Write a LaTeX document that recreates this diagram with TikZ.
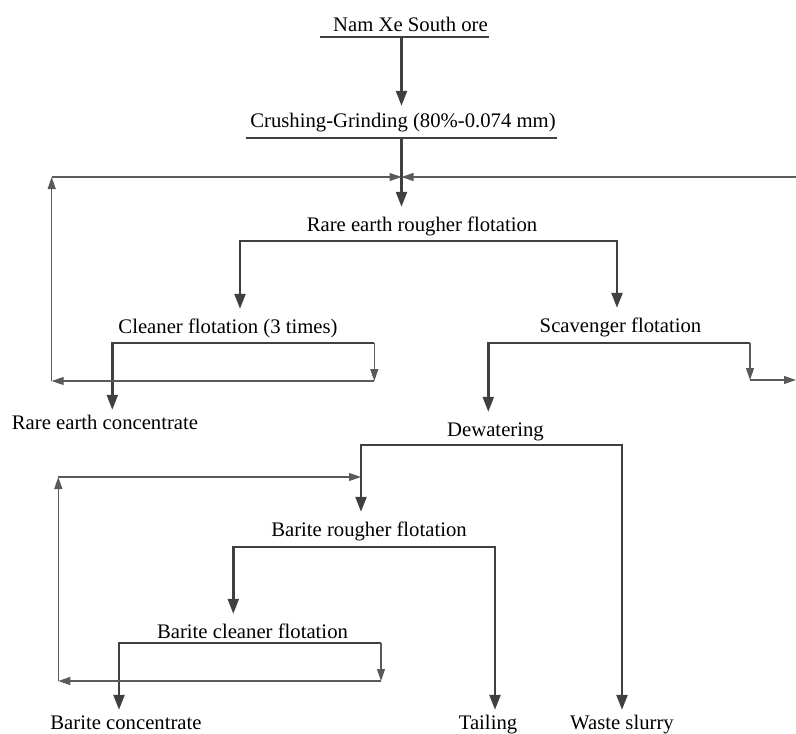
\documentclass[tikz,border=0pt]{standalone}
\usepackage{fontspec}
\setmainfont{Liberation Serif}
\usetikzlibrary{arrows.meta}
\definecolor{linegray}{HTML}{404040}
\definecolor{backgray}{HTML}{5A5A5A}
\tikzset{stage/.style={anchor=base,inner xsep=0pt,inner ysep=10pt,text height=14pt,text depth=0pt},
 product/.style={stage,inner ysep=5pt},
 bar/.style={draw=linegray,line width=2.4pt},
 main/.style={bar,-{Triangle[length=15pt,width=11pt]}},
 split/.style={bar,{Triangle[length=15pt,width=11pt]}-{Triangle[length=15pt,width=11pt]}},
 back/.style={draw=backgray,line width=1.1pt,-{Triangle[length=12pt,width=8pt]}}}

\begin{document}
\begin{tikzpicture}[x=1pt,y=-1pt,font=\fontsize{20.7}{24}\selectfont]
 \useasboundingbox (0,0) rectangle (796,734);
 \node[stage] (ore) at (410.5,31) {Nam Xe South ore};
 \node[stage,inner ysep=7pt] (crush) at (403,127) {Crushing-Grinding (80\%-0.074 mm)};
 \node[stage] (rough) at (422,231) {Rare earth rougher flotation};
 \node[stage] (clean) at (228,333) {Cleaner flotation (3 times)};
 \node[product] (recon) at (105,429) {Rare earth concentrate};
 \node[stage] (scav) at (620.5,332) {Scavenger flotation};
 \node[stage] (dewat) at (495.5,436) {Dewatering};
 \node[stage] (brough) at (369,536) {Barite rougher flotation};
 \node[stage] (bclean) at (252.5,638) {Barite cleaner flotation};
 \node[product] (bcon) at (126,729) {Barite concentrate};
 \node[product] (tail) at (488,729) {Tailing};
 \node[product] (slurry) at (622,729) {Waste slurry};
 \coordinate (u1) at (401.5,37);
 \coordinate (u2) at (401.5,138);
 \coordinate (mix) at (401.5,177);
 \coordinate (a1) at (240,241);
 \coordinate (a2) at (617,241);
 \coordinate (c1) at (112.3,343);
 \coordinate (c2) at (374.3,343);
 \coordinate (c3) at (374.3,381);
 \coordinate (r1) at (51.7,381);
 \coordinate (r2) at (51.7,177);
 \coordinate (r3) at (796,177);
 \coordinate (s1) at (488.3,343);
 \coordinate (s2) at (750,343);
 \coordinate (s3) at (750,380);
 \coordinate (s4) at (796,380);
 \coordinate (d1) at (361,445);
 \coordinate (d2) at (622,445);
 \coordinate (f1) at (233.3,547);
 \coordinate (f2) at (495,547);
 \coordinate (g1) at (119,643);
 \coordinate (g2) at (381,643);
 \coordinate (g3) at (381,681);
 \coordinate (e1) at (58.3,681);
 \coordinate (e2) at (58.3,477);
 \coordinate (e3) at (361,477);
 \draw[bar] (320,37) -- (489,37);
 \draw[bar] (246,138) -- (557,138);
 \draw[main] (u1) -- (crush.north -| u1);
 \draw[main] (u2) -- (rough.north -| u2);
 \draw[split] (clean.north -| a1) -- (a1) -- (a2) -- (scav.north -| a2);
 \draw[main] (c2) -- (c1) -- (recon.north -| c1);
 \draw[back] (c2) -- (c3);
 \draw[back] (c3) -- (r1);
 \draw[back] (r1) -- (r2);
 \draw[back] (r2) -- (mix);
 \draw[back] (r3) -- (mix);
 \draw[main] (s2) -- (s1) -- (dewat.north -| s1);
 \draw[back] (s2) -- (s3);
 \draw[back] (s3) -- (s4);
 \draw[split] (brough.north -| d1) -- (d1) -- (d2) -- (slurry.north -| d2);
 \draw[split] (bclean.north -| f1) -- (f1) -- (f2) -- (tail.north -| f2);
 \draw[main] (g2) -- (g1) -- (bcon.north -| g1);
 \draw[back] (g2) -- (g3);
 \draw[back] (g3) -- (e1);
 \draw[back] (e1) -- (e2);
 \draw[back] (e2) -- (e3);
\end{tikzpicture}
\end{document}
